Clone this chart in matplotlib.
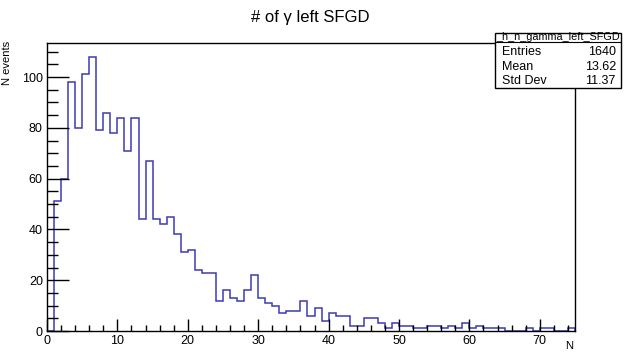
import numpy as np
import matplotlib.pyplot as plt
from matplotlib.patches import Rectangle
from matplotlib.ticker import MultipleLocator

plt.rcParams['font.family'] = ['Liberation Sans', 'DejaVu Sans']

counts = [0, 51, 60, 98, 80, 101, 108, 79, 86, 78,
          84, 71, 84, 44, 67, 44, 42, 45, 38, 31,
          32, 24, 23, 23, 12, 16, 13, 12, 16, 22,
          13, 11, 10, 7, 8, 8, 12, 6, 9, 4,
          7, 6, 6, 2, 2, 5, 5, 3, 1, 3,
          2, 2, 1, 1, 2, 2, 1, 2, 1, 3,
          1, 2, 1, 1, 1, 0, 0, 0, 1, 0,
          1, 1, 0, 0, 1]
x_min, x_max = 0, 75
hist_name = "_h_n_gamma_left_SFGD"
stats = [("Entries", "1640"), ("Mean", "13.62"), ("Std Dev", "11.37")]

edges = np.linspace(x_min, x_max, len(counts) + 1)

fig = plt.figure(figsize=(6.24, 3.55), dpi=100)
ax = fig.add_axes([0.0753, 0.0676, 0.8462, 0.8113])

ax.stairs(counts, edges, color='#3c3cb4', lw=1.1)
ax.set_xlim(x_min, x_max)
ax.set_ylim(0, max(counts) * 1.05)

# styl ROOT: ticki do środka, tylko lewa i dolna oś
ax.xaxis.set_major_locator(MultipleLocator(10))
ax.xaxis.set_minor_locator(MultipleLocator(2))
ax.yaxis.set_major_locator(MultipleLocator(20))
ax.yaxis.set_minor_locator(MultipleLocator(5))
ax.tick_params(axis='x', which='major', direction='in', length=9, width=1, labelsize=9, pad=3)
ax.tick_params(axis='x', which='minor', direction='in', length=4.5, width=1)
ax.tick_params(axis='y', which='major', direction='in', length=16, width=1, labelsize=9, pad=3)
ax.tick_params(axis='y', which='minor', direction='in', length=8, width=1)
for s in ax.spines.values():
    s.set_linewidth(1)

fig.text(0.497, 0.952, "# of γ left SFGD", ha='center', va='center', fontsize=12)
fig.text(0.012, 0.885, "N events", rotation=90, ha='center', va='top', fontsize=8)
fig.text(0.918, 0.010, "N", ha='right', va='bottom', fontsize=8)

# --- box ze statystykami ---
bx0, bx1 = 0.793, 0.995
by0, by1 = 0.752, 0.907
fig.patches.append(Rectangle((bx0, by0), bx1 - bx0, by1 - by0, transform=fig.transFigure,
                             fc='white', ec='black', lw=1, zorder=5))
sep = 0.882
fig.add_artist(plt.Line2D([bx0, bx1], [sep, sep], transform=fig.transFigure, color='black', lw=0.8, zorder=6))
fig.text((bx0 + bx1) / 2, (sep + by1) / 2, hist_name, ha='center', va='center', fontsize=7.8, zorder=7)
row_y = [0.853, 0.812, 0.773]
for (lab, val), yy in zip(stats, row_y):
    fig.text(bx0 + 0.012, yy, lab, ha='left', va='center', fontsize=9, zorder=7)
    fig.text(bx1 - 0.008, yy, val, ha='right', va='center', fontsize=9, zorder=7)

fig.savefig("out.png", dpi=100)
